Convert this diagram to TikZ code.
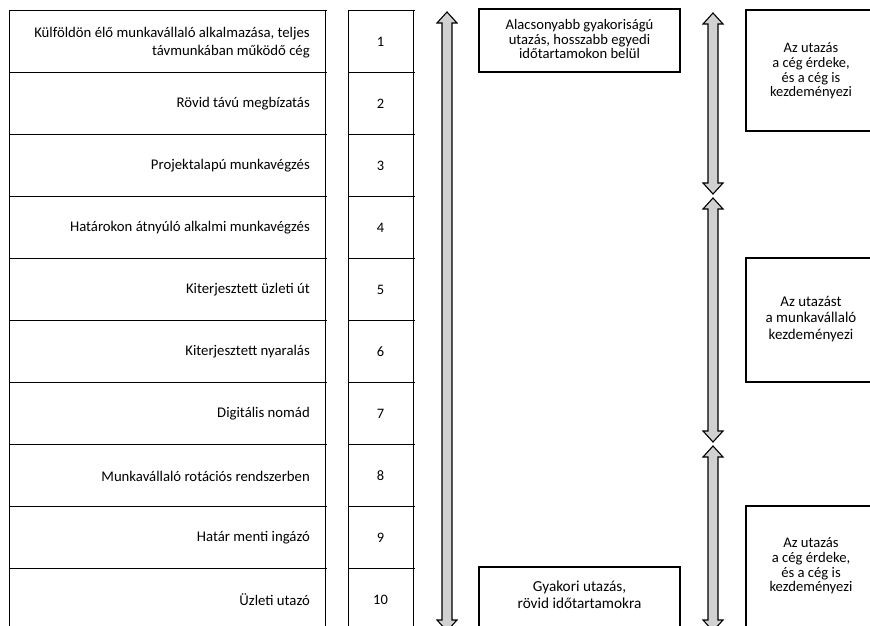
\documentclass[tikz,border=0pt]{standalone}
\usepackage{fontspec}
\setmainfont{Carlito}
\begin{document}
\begin{tikzpicture}[x=1bp,y=-1bp,
  tline/.style={line width=0.9bp, black},
  lbl/.style={font=\fontsize{14.8}{18}\selectfont, align=right, anchor=east, inner sep=0pt},
  num/.style={font=\fontsize{14.5}{16}\selectfont, inner sep=0pt},
  tbox/.style={draw, line width=1.6bp, inner sep=0pt},
  btext/.style={align=center, inner sep=0pt},
  barrow/.style={draw, line width=1.1bp, fill=black!18, line join=miter}]
\useasboundingbox (0,0) rectangle (870,626);
\clip (0,0) rectangle (870,626);

% table grid
\foreach \k in {0,...,10} {
  \draw[tline] (9,10+62*\k) -- (327,10+62*\k);
  \draw[tline] (348,10+62*\k) -- (415,10+62*\k);
}
\draw[tline] (9,10) -- (9,640);
\draw[tline] (325,10) -- (325,640);
\draw[tline] (348,10) -- (348,640);
\draw[tline] (413,10) -- (413,640);

% labels
\node[lbl] (l1) at (310,43) {Külföldön élő munkavállaló alkalmazása, teljes\\távmunkában működő cég};
\node[lbl] (l2) at (310,104) {Rövid távú megbízatás};
\node[lbl] (l3) at (310,166) {Projektalapú munkavégzés};
\node[lbl] (l4) at (310,228) {Határokon átnyúló alkalmi munkavégzés};
\node[lbl] (l5) at (310,290) {Kiterjesztett üzleti út};
\node[lbl] (l6) at (310,352) {Kiterjesztett nyaralás};
\node[lbl] (l7) at (310,414) {Digitális nomád};
\node[lbl] (l8) at (310,476) {Munkavállaló rotációs rendszerben};
\node[lbl] (l9) at (310,538) {Határ menti ingázó};
\node[lbl] (l10) at (310,600) {Üzleti utazó};

% numbers
\foreach \i in {1,...,10} {
  \node[num] (n\i) at (380.5,42+62*\i-62) {\i};
}

% block arrows
\newcommand\blockarrow[3]{%
  \draw[barrow] (#1,#2) -- (#1+10,#2+11) -- (#1+5,#2+11) -- (#1+5,#3-11) -- (#1+10,#3-11)
    -- (#1,#3) -- (#1-10,#3-11) -- (#1-5,#3-11) -- (#1-5,#2+11) -- (#1-10,#2+11) -- cycle;}
\blockarrow{447}{12}{631}
\blockarrow{713}{13}{194}
\blockarrow{713}{198}{442}
\blockarrow{713}{446}{631}

% boxes
\node[tbox, minimum width=201bp, minimum height=63bp] (b1) at (579.5,40.5) {};
\node[btext, font=\fontsize{14.67}{14.5}\selectfont] (b1t) at (579.5,39) {Alacsonyabb gyakoriságú\\utazás, hosszabb egyedi\\időtartamokon belül};

\node[tbox, minimum width=201bp, minimum height=63bp] (b2) at (579.5,598.5) {};
\node[btext, font=\fontsize{15.3}{17}\selectfont] (b2t) at (579.5,594.5) {Gyakori utazás,\\rövid időtartamokra};

\node[tbox, minimum width=131bp, minimum height=121bp] (r1) at (811.5,70.5) {};
\node[btext, font=\fontsize{14.5}{14.6}\selectfont] (r1t) at (811,71) {Az utazás\\a cég érdeke,\\és a cég is\\kezdeményezi};

\node[tbox, minimum width=131bp, minimum height=124bp] (r2) at (811.5,320) {};
\node[btext, font=\fontsize{15}{16.5}\selectfont] (r2t) at (811,319) {Az utazást\\a munkavállaló\\kezdeményezi};

\node[tbox, minimum width=131bp, minimum height=124bp] (r3) at (811.5,568) {};
\node[btext, font=\fontsize{14.7}{14.8}\selectfont] (r3t) at (811,566) {Az utazás\\a cég érdeke,\\és a cég is\\kezdeményezi};
\end{tikzpicture}
\end{document}
